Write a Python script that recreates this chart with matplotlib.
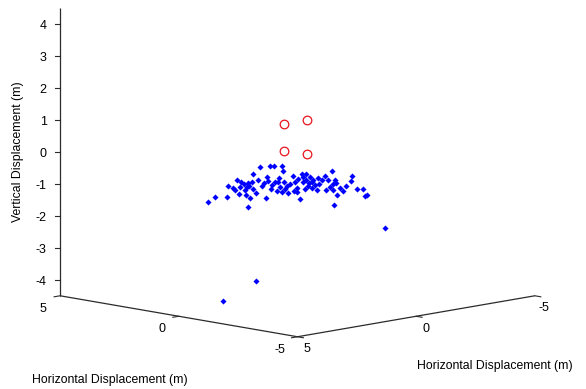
import matplotlib
matplotlib.use("Agg")
import matplotlib.pyplot as plt
from mpl_toolkits.mplot3d import proj3d

plt.rcParams['font.family'] = ['Liberation Sans', 'DejaVu Sans']

# Estimated source positions (m)
blue_x = [2.18, 1.28, 2.18, 1.20, 1.37, 0.48, 1.65, 0.83, 1.62, 0.44, 1.28, 0.95,
          1.34, 0.51, 1.64, 0.78, 0.93, 0.04, 1.20, 0.36, 1.20, 0.01, 0.78, 0.51,
          0.79, 0.02, 1.14, 0.25, 0.47, -0.42, 0.78, 0.00, 0.83, -0.39, 0.29, 0.02,
          0.35, -0.43, 0.65, -0.24, -0.02, -0.91, 0.27, -0.49, 0.32, -0.86, -0.10, -0.38,
          -0.07, -0.87, 0.12, -0.76, -0.55, -1.47, -0.29, -1.05, -0.22, -1.39, -0.64, -1.01,
          -0.82, -1.59, -0.56, -1.54, -1.32, -2.21, -1.39, 0.58, 0.57,
          0.84, 1.61, 0.82, 0.96, -0.01, 0.79, 0.16, 0.81, -0.41, 0.03, -0.89, 0.04,
          -0.70, 0.08, -1.13, -0.76, -1.32, 1.32, 0.82, 1.61, -0.50, 0.31, -0.53, -0.39]
blue_y = [1.58, 2.18, 0.78, 1.50, 1.17, 1.98, 0.75, 1.43, 0.52, 1.64, 0.88, 1.05,
          0.74, 1.41, 0.24, 1.08, 0.73, 1.54, 0.30, 0.96, 0.10, 1.21, 0.38, 0.61,
          0.19, 0.92, -0.26, 0.55, 0.27, 1.08, -0.12, 0.60, -0.27, 0.81, -0.11, 0.12,
          -0.25, 0.47, -0.75, 0.06, -0.22, 0.59, -0.63, 0.11, -0.78, 0.34, -0.50, -0.28,
          -0.67, 0.03, -1.28, -0.46, -0.75, 0.03, -1.19, -0.45, -1.32, -0.19, -1.04, -0.91,
          -1.42, -0.69, -1.96, -1.24, -1.52, -0.71, -2.29, 1.18, 2.57,
          1.54, 0.61, 1.22, 0.46, 1.09, -0.01, 0.36, -0.49, 0.39, -0.27, 0.41, -0.66,
          -0.20, -1.12, -0.23, -0.86, -0.72, 0.42, 1.82, 1.31, 0.90, -0.29, -0.33, -1.39]
blue_z = [-1.66, -1.30, -1.60, -1.08, -0.90, -1.12, -1.22, -0.92, -1.24, -0.82, -1.40, -1.43,
          -1.81, -0.84, -0.87, -1.13, -0.90, -0.29, -1.18, -1.38, -0.93, -0.77, -0.49, -1.15,
          -0.51, -0.84, -1.39, -0.89, -1.13, -1.05, -0.57, -0.51, -1.07, -0.91, -0.80, -1.20,
          -1.01, -1.02, -1.64, -0.65, -0.98, -0.97, -0.80, -0.80, -1.20, -0.64, -0.98, -0.86,
          -1.11, -1.09, -0.95, -1.17, -0.90, -0.42, -1.12, -1.13, -1.80, -0.72, -1.40, -1.20,
          -0.98, -0.64, -1.35, -1.13, -1.40, -1.15, -2.49, -3.95, -4.42,
          -0.85, -1.32, -1.01, -1.03, -0.89, -0.92, -1.13, -1.17, -0.74, -0.82, -0.80, -1.21,
          -0.94, -1.03, -0.98, -0.98, -0.99, -1.40, -1.06, -1.10, -1.10, -1.33, -0.79, -1.25]

# Sensor positions (m)
red_x = [-0.20, -0.20, 0.40, -0.45]
red_y = [0.75, -0.20, 0.15, 0.05]
red_z = [1.0, 1.0, 0.0, 0.0]

h_lim = (-5, 5)
v_lim = (-4.5, 4.5)
h_ticks = [-5, 0, 5]
v_ticks = [-4, -3, -2, -1, 0, 1, 2, 3, 4]

fig = plt.figure(figsize=(5.86, 3.89), dpi=100)
ax = fig.add_axes([-0.8 / 586, 37.4 / 389, 1, 1], projection='3d', proj_type='ortho')
ax.view_init(elev=9.94, azim=135)
ax.set_xlim(*h_lim)
ax.set_ylim(*h_lim)
ax.set_zlim(*v_lim)
ax.set_box_aspect((10, 10, 8.705), zoom=1.3913)
ax.set_axis_off()

# Box axes drawn in the MATLAB style: vertical axis at the left corner,
# two horizontal axes meeting at the front corner.
xa, ya = h_lim[1], h_lim[1]
z0, z1 = v_lim
axis_kw = dict(color='#2b2b2b', lw=0.9, solid_capstyle='butt', clip_on=False)
ax.plot([xa, xa], [ya, ya], [z0, z1], **axis_kw)
ax.plot([h_lim[1], h_lim[0]], [ya, ya], [z0, z0], **axis_kw)
ax.plot([h_lim[0], h_lim[0]], [h_lim[1], h_lim[0]], [z0, z0], **axis_kw)

tick_kw = dict(color='#2b2b2b', lw=0.8, clip_on=False)
for zt in v_ticks:
    ax.plot([xa, xa + 0.1], [ya, ya + 0.1], [zt, zt], **tick_kw)
for t in h_ticks:
    ax.plot([t, t], [ya, ya + 0.25], [z0, z0], **tick_kw)
    ax.plot([h_lim[0], h_lim[0] - 0.25], [t, t], [z0, z0], **tick_kw)

ax.plot(blue_x, blue_y, blue_z, linestyle='none', marker='D', markersize=3.1,
        color='#0000ff', markeredgewidth=0, clip_on=False)
ax.plot(red_x, red_y, red_z, linestyle='none', marker='o', markersize=6.2,
        markerfacecolor='none', markeredgecolor='#e8141e', markeredgewidth=0.9,
        clip_on=False)

# Tick labels are placed at their projected positions as plain 2D text.
fig.canvas.draw()
M = ax.get_proj()


def label3d(x, y, z, s, **kw):
    xs, ys, _ = proj3d.proj_transform(x, y, z, M)
    ax.text2D(xs, ys, s, transform=ax.transData, fontsize=9, **kw)


for zt in v_ticks:
    label3d(xa + 0.28, ya + 0.28, zt - 0.06, f"{zt}", ha='right', va='center')
for t in h_ticks:
    label3d(t, ya + 0.72, z0 - 0.31, f"{t}", ha='center', va='center')
    label3d(h_lim[0] - 0.40, t, z0 - 0.34, f"{t}", ha='center', va='center')

lab_fs = 8.8
fig.text(18 / 586, 1 - 152 / 389, "Vertical Displacement (m)", rotation=90,
         ha='center', va='center', fontsize=lab_fs)
fig.text(110 / 586, 1 - 380 / 389, "Horizontal Displacement (m)",
         ha='center', va='center', fontsize=lab_fs)
fig.text(495 / 586, 1 - 366 / 389, "Horizontal Displacement (m)",
         ha='center', va='center', fontsize=lab_fs)

fig.savefig("out.png", dpi=100)
